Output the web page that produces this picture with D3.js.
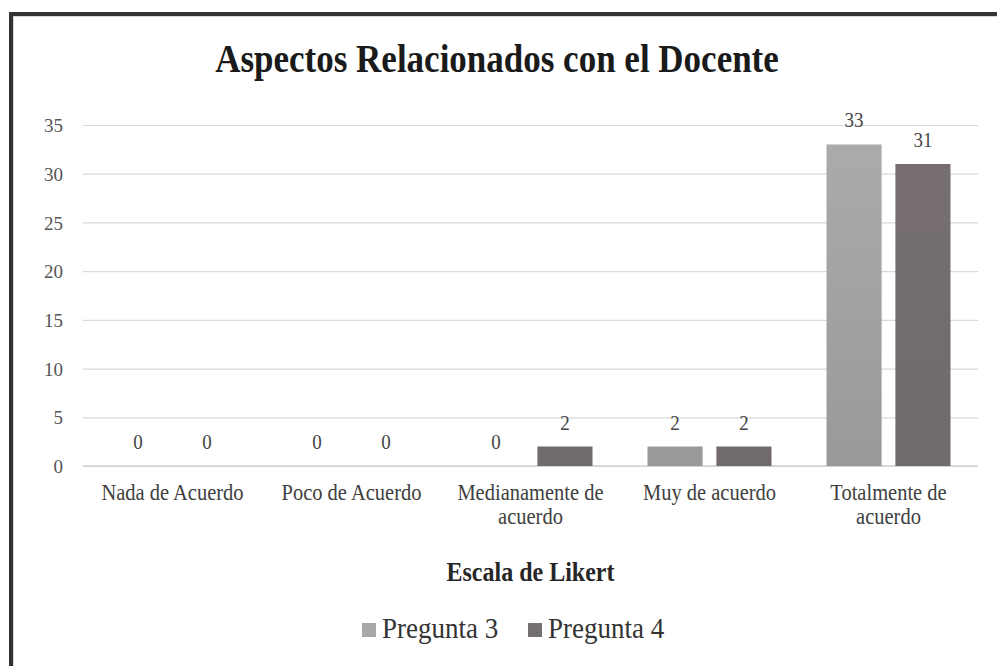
<!DOCTYPE html>
<html>
<head>
<meta charset="utf-8">
<script src="https://cdn.jsdelivr.net/npm/d3@7"></script>
<style>
  html, body { margin: 0; padding: 0; background: #fff; }
  svg { display: block; }
  text { font-family: "Liberation Serif", "Times New Roman", serif; }
</style>
</head>
<body>
<svg id="chart" width="997" height="666"></svg>
<script>
const categories = [["Nada de Acuerdo"], ["Poco de Acuerdo"], ["Medianamente de", "acuerdo"], ["Muy de acuerdo"], ["Totalmente de", "acuerdo"]];
const seriesNames = ["Pregunta 3", "Pregunta 4"];
const pregunta3 = [0, 0, 0, 2, 33];
const pregunta4 = [0, 0, 2, 2, 31];
const yTicks = [0, 5, 10, 15, 20, 25, 30, 35];
const titleText = "Aspectos Relacionados con el Docente";
const xTitle = "Escala de Likert";

const W = 997, H = 666;
const svg = d3.select("#chart");
const m = { left: 83, right: 19 };
const plotW = W - m.left - m.right;
const plotTop = 125, plotBottom = 466;

function stretch(sel, k) {
  sel.each(function () {
    const yy = +this.getAttribute("y");
    d3.select(this).attr("transform", `translate(0,${yy}) scale(1,${k}) translate(0,${-yy})`);
  });
}

// frame
svg.append("rect").attr("x", 11).attr("y", 14).attr("width", W + 20).attr("height", H + 20)
  .attr("fill", "none").attr("stroke", "#333").attr("stroke-width", 4);
svg.append("rect").attr("x", 13.5).attr("y", 16.5).attr("width", W + 20).attr("height", H + 20)
  .attr("fill", "none").attr("stroke", "#d8d8d8").attr("stroke-width", 1);

const defs = svg.append("defs");
const g1 = defs.append("linearGradient").attr("id", "g1").attr("gradientUnits", "userSpaceOnUse")
  .attr("x1", 0).attr("x2", 0).attr("y1", plotTop).attr("y2", plotBottom);
g1.append("stop").attr("offset", 0).attr("stop-color", "#acacac");
g1.append("stop").attr("offset", 1).attr("stop-color", "#999999");
const g2 = defs.append("linearGradient").attr("id", "g2").attr("gradientUnits", "userSpaceOnUse")
  .attr("x1", 0).attr("x2", 0).attr("y1", plotTop).attr("y2", plotBottom);
g2.append("stop").attr("offset", 0).attr("stop-color", "#787070");
g2.append("stop").attr("offset", 1).attr("stop-color", "#706a6a");
const fills = ["url(#g1)", "url(#g2)"];
const legendColors = ["#a8a8a8", "#747070"];

const x = d3.scaleBand().domain(d3.range(categories.length)).range([m.left, m.left + plotW]);
const y = d3.scaleLinear().domain([0, 35]).range([plotBottom, plotTop]);
const x1 = d3.scaleBand().domain([0, 1]).range([0, 124]).paddingInner(0.2);

// title
svg.append("text").attr("x", 497).attr("y", 72).attr("text-anchor", "middle")
  .attr("font-size", 35).attr("font-weight", "bold").attr("fill", "#1a1a1a").text(titleText)
  .call(stretch, 1.15);

// y axis grid + labels
const yAxis = d3.axisLeft(y).tickValues(yTicks).tickSize(-plotW).tickPadding(20);
const ya = svg.append("g").attr("transform", `translate(${m.left},0)`).call(yAxis);
ya.select(".domain").remove();
ya.selectAll(".tick line").attr("stroke", "#d9d9d9").attr("stroke-width", 1.2);
ya.selectAll(".tick text").attr("font-family", "Liberation Serif, serif").attr("font-size", 19)
  .attr("fill", "#555").attr("dy", "0.35em");

// baseline
svg.append("line").attr("x1", m.left).attr("x2", m.left + plotW).attr("y1", y(0)).attr("y2", y(0))
  .attr("stroke", "#d0d0d0").attr("stroke-width", 1.5);

// bars
const series = [pregunta3, pregunta4];
const groups = svg.append("g").selectAll("g").data(categories).join("g")
  .attr("transform", (d, i) => `translate(${x(i) + (x.bandwidth() - 124) / 2},0)`);
series.forEach((vals, s) => {
  groups.append("rect")
    .attr("x", x1(s)).attr("width", x1.bandwidth())
    .attr("y", d => y(vals[categories.indexOf(d)]))
    .attr("height", d => y(0) - y(vals[categories.indexOf(d)]))
    .attr("fill", fills[s]);
  groups.append("text")
    .attr("x", x1(s) + x1.bandwidth() / 2)
    .attr("y", d => y(vals[categories.indexOf(d)]) - 17)
    .attr("text-anchor", "middle").attr("font-size", 19).attr("fill", "#444")
    .text(d => vals[categories.indexOf(d)])
    .call(stretch, 1.1);
});

// category labels
const cl = svg.append("g").selectAll("text").data(categories).join("text")
  .attr("x", (d, i) => x(i) + x.bandwidth() / 2).attr("y", 500)
  .attr("text-anchor", "middle").attr("font-size", 20.5).attr("fill", "#404040");
cl.selectAll("tspan").data(d => d).join("tspan")
  .attr("x", function () { return this.parentNode.getAttribute("x"); })
  .attr("dy", (d, i) => i === 0 ? 0 : 22).text(d => d);
cl.call(stretch, 1.1);

// x axis title
svg.append("text").attr("x", m.left + plotW / 2).attr("y", 581).attr("text-anchor", "middle")
  .attr("font-size", 24).attr("font-weight", "bold").attr("fill", "#262626").text(xTitle)
  .call(stretch, 1.12);

// legend
const legX = [362, 528];
seriesNames.forEach((n, i) => {
  svg.append("rect").attr("x", legX[i]).attr("y", 623).attr("width", 14).attr("height", 14)
    .attr("fill", legendColors[i]);
  svg.append("text").attr("x", legX[i] + 20).attr("y", 638).attr("font-size", 27)
    .attr("fill", "#333").text(n).call(stretch, 1.12);
});
</script>
</body>
</html>
